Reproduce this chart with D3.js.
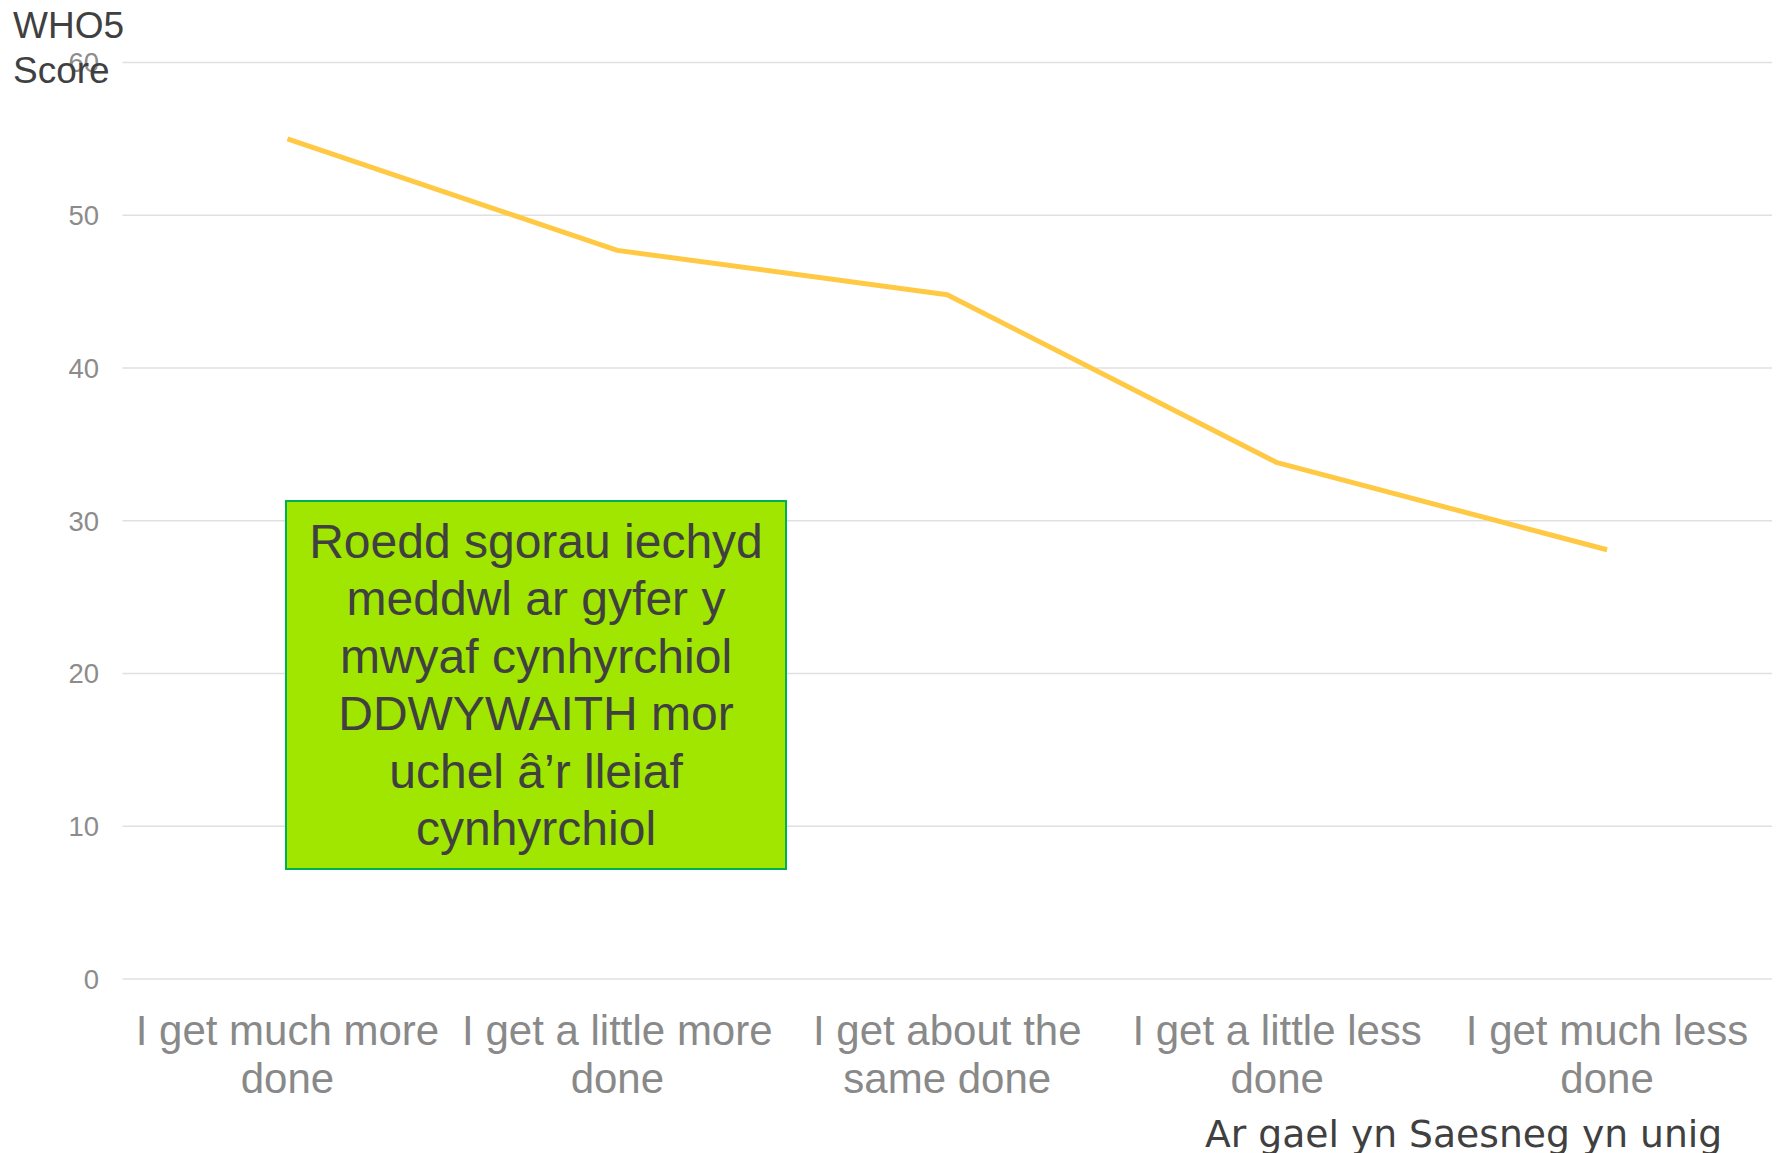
<!DOCTYPE html>
<html>
<head>
<meta charset="utf-8">
<script src="https://cdn.jsdelivr.net/npm/d3@7"></script>
<style>
  body { margin: 0; background: #fff; }
  svg { display: block; }
</style>
</head>
<body>
<div id="frame"></div>
<script>
'use strict'

var categories = [
  ["I get much more", "done"],
  ["I get a little more", "done"],
  ["I get about the", "same done"],
  ["I get a little less", "done"],
  ["I get much less", "done"]
]
var who5 = [55.0, 47.7, 44.8, 33.8, 28.1]
var yTicks = [0, 10, 20, 30, 40, 50, 60]
var yTitle = ["WHO5", "Score"]
var noteLines = [
  "Roedd sgorau iechyd",
  "meddwl ar gyfer y",
  "mwyaf cynhyrchiol",
  "DDWYWAITH mor",
  "uchel \u00e2\u2019r lleiaf",
  "cynhyrchiol"
]
var footNote = "Ar gael yn Saesneg yn unig"

var W = 1779, H = 1153
var plot = { left: 122.5, right: 1772, top: 62.5, bottom: 979 }

var svg = d3.select("#frame")
  .append("svg")
  .attr("width", W)
  .attr("height", H)

var x = d3.scaleBand()
  .domain(d3.range(categories.length))
  .range([plot.left, plot.right])

var y = d3.scaleLinear()
  .domain([0, 60])
  .range([plot.bottom, plot.top])

// grid
svg.append("g")
  .selectAll("line")
  .data(yTicks)
  .enter().append("line")
  .attr("x1", plot.left)
  .attr("x2", plot.right)
  .attr("y1", d => y(d))
  .attr("y2", d => y(d))
  .style("stroke", "#e0e0e0")
  .style("stroke-width", 1.5)

// y tick labels
svg.append("g")
  .selectAll("text")
  .data(yTicks)
  .enter().append("text")
  .attr("x", 99)
  .attr("y", d => y(d))
  .attr("dy", "0.36em")
  .attr("text-anchor", "end")
  .style("font-family", "'Liberation Sans', Arial, sans-serif")
  .style("font-size", "27.5px")
  .style("fill", "#8c8c8c")
  .text(d => d)

// x labels
var xl = svg.append("g")
  .selectAll("text")
  .data(categories)
  .enter().append("text")
  .attr("text-anchor", "middle")
  .style("font-family", "'Liberation Sans', Arial, sans-serif")
  .style("font-size", "42px")
  .style("fill", "#898989")

xl.each(function(d, i) {
  var cx = x(i) + x.bandwidth() / 2
  d3.select(this).selectAll("tspan")
    .data(d)
    .enter().append("tspan")
    .attr("x", cx)
    .attr("y", (t, j) => 1045 + j * 48)
    .text(t => t)
})

// line
var line = d3.line()
  .x((d, i) => x(i) + x.bandwidth() / 2)
  .y(d => y(d))

svg.append("path")
  .datum(who5)
  .attr("d", line)
  .style("fill", "none")
  .style("stroke", "#ffc944")
  .style("stroke-width", 5)
  .style("stroke-linejoin", "round")

// y title
svg.append("text")
  .style("font-family", "'Liberation Sans', Arial, sans-serif")
  .style("font-size", "37px")
  .style("fill", "#404040")
  .selectAll("tspan")
  .data(yTitle)
  .enter().append("tspan")
  .attr("x", 13)
  .attr("y", (d, i) => 38 + i * 45)
  .text(d => d)

// annotation box
var box = svg.append("g")
box.append("rect")
  .attr("x", 286)
  .attr("y", 501)
  .attr("width", 500)
  .attr("height", 368)
  .style("fill", "#a0e600")
  .style("stroke", "#00b050")
  .style("stroke-width", 2)

box.append("text")
  .attr("text-anchor", "middle")
  .style("font-family", "'Liberation Sans', Arial, sans-serif")
  .style("font-size", "48px")
  .style("fill", "#404040")
  .selectAll("tspan")
  .data(noteLines)
  .enter().append("tspan")
  .attr("x", 536)
  .attr("y", (d, i) => 558 + i * 57.4)
  .text(d => d)

// footnote
svg.append("text")
  .attr("x", 1205)
  .attr("y", 1147)
  .style("font-family", "'DejaVu Sans', Verdana, sans-serif")
  .style("font-size", "37.7px")
  .style("fill", "#404040")
  .text(footNote)
</script>
</body>
</html>
